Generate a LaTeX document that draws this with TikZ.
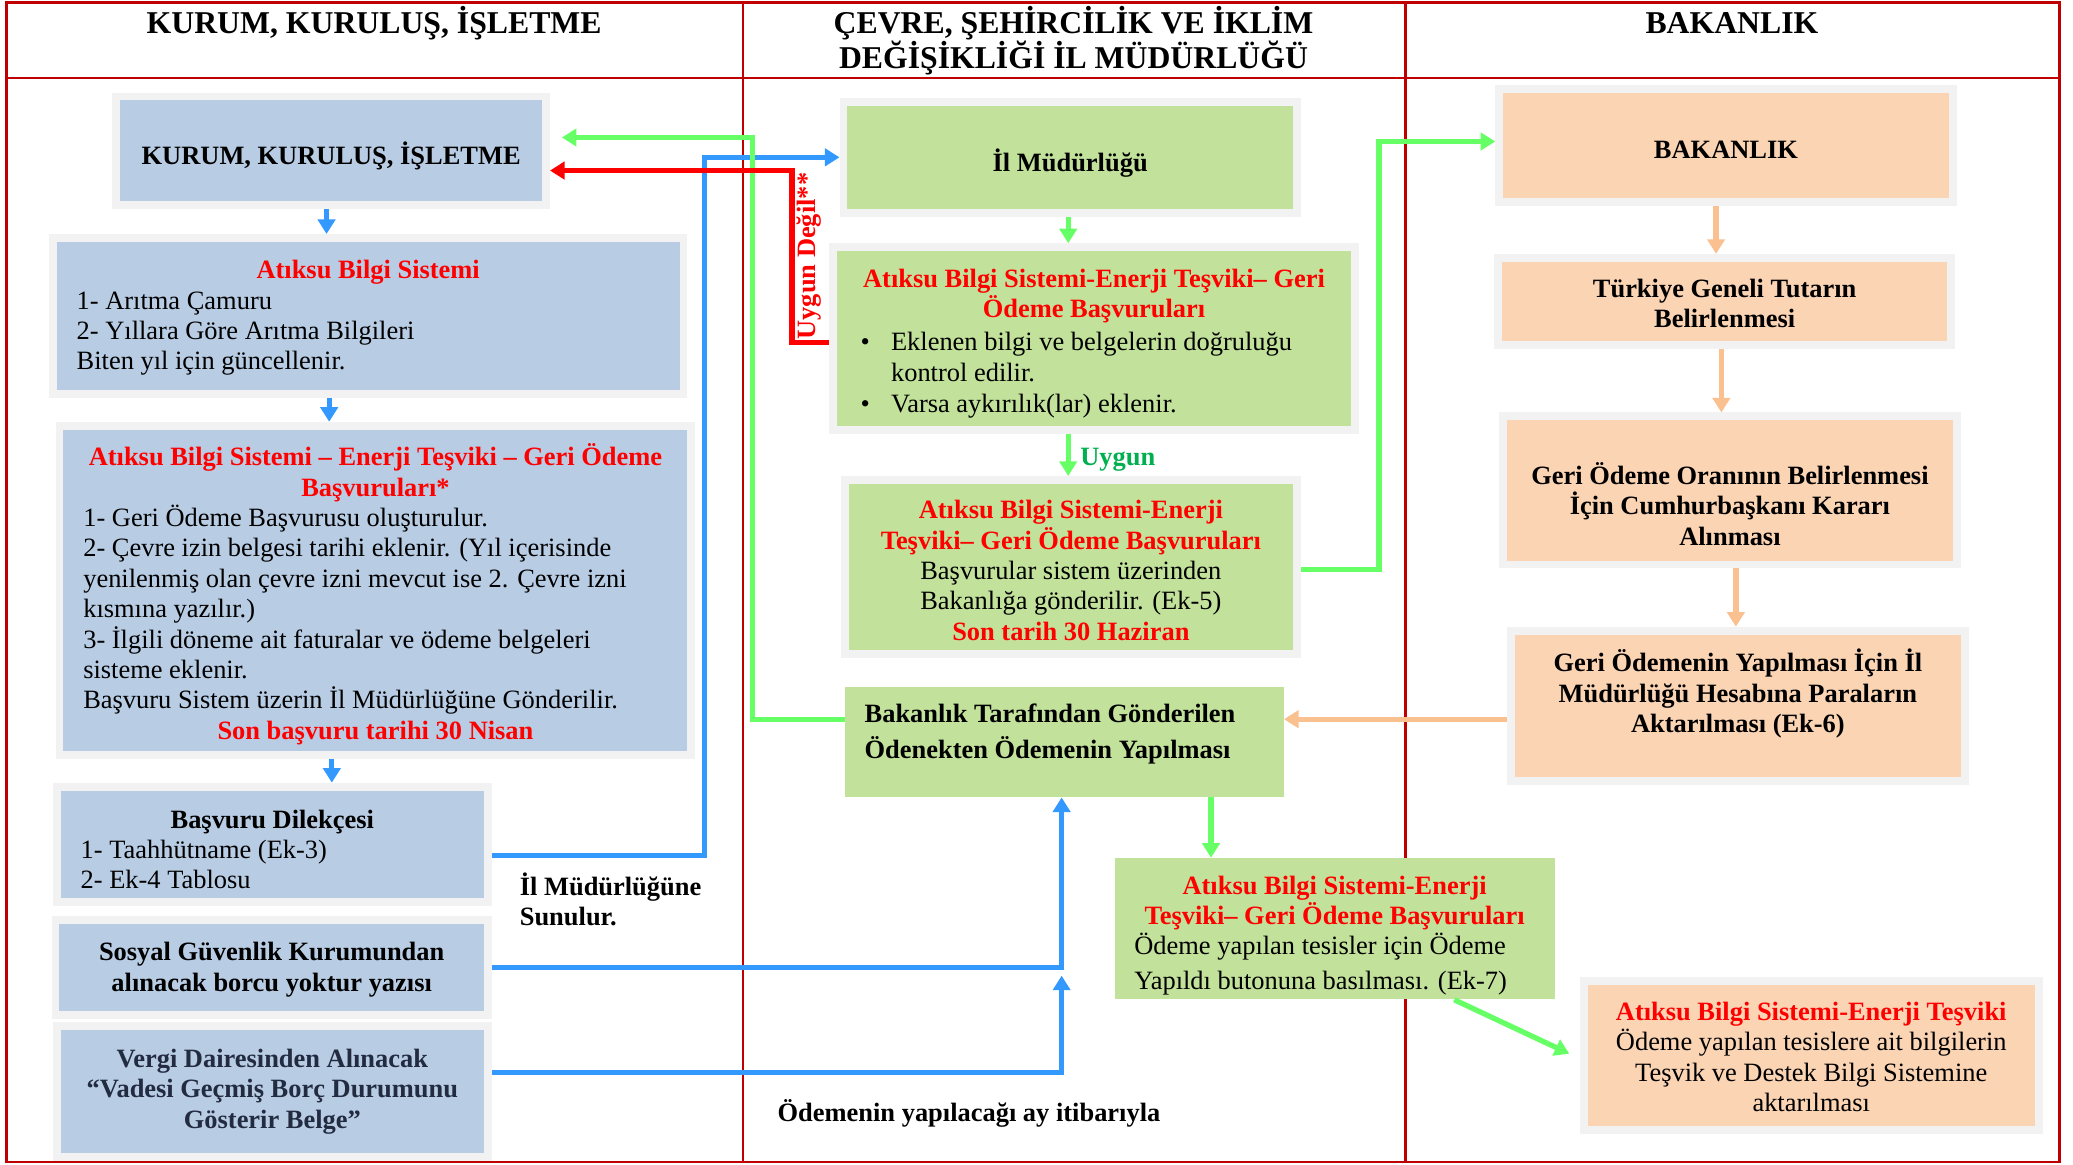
\documentclass[tikz,border=0pt]{standalone}
\usepackage{fontspec}
\setmainfont{Liberation Serif}
\usetikzlibrary{arrows.meta}
\definecolor{framered}{HTML}{C00000}
\definecolor{bluefill}{HTML}{B8CCE4}
\definecolor{greenfill}{HTML}{C2E19A}
\definecolor{peachfill}{HTML}{FBD4B4}
\definecolor{shadowgray}{HTML}{F2F2F2}
\definecolor{barr}{HTML}{3399FF}
\definecolor{garr}{HTML}{66FF66}
\definecolor{parr}{HTML}{FAC08F}
\definecolor{rarr}{HTML}{FF0000}
\definecolor{okgreen}{HTML}{00B050}
\definecolor{navytext}{HTML}{222B40}
\newcommand\fsz{\fontsize{20}{23}\selectfont\lineskiplimit=-100pt\relax}
\newcommand\fsh{\fontsize{24}{27}\selectfont}
\newcommand\clin[1]{\hbox to\hsize{\hss#1\hss}}
\newcommand\llin[1]{\hbox to\hsize{#1\hss}}
\newcommand\tbx[3][0]{\vbox{\hsize=#2pt\relax\kern#1pt\relax#3}}
\newcommand\redb{\color{red}\bfseries}
\tikzset{
  boxn/.style={draw=shadowgray, line width=6pt, inner sep=0pt, font=\fsz},
  flatn/.style={inner sep=0pt, font=\fsz},
  txtn/.style={inner sep=0pt, font=\fsz\bfseries, anchor=base west},
  hdr/.style={inner sep=0pt, font=\fsh\bfseries, anchor=base},
  arr/.style={line width=4pt, -{Triangle[length=11pt,width=13pt]}},
  frameline/.style={draw=framered, line width=2pt}
}
\begin{document}
\begin{tikzpicture}[x=1pt,y=-1pt]
\fill[white] (0,0) rectangle (1568,881);
\useasboundingbox (0,0) rectangle (1568,881);
% frame
\draw[frameline] (5,2) rectangle (1558,879);
\draw[frameline] (5,59) -- (1558,59);
\draw[frameline] (562,2) -- (562,879);
\draw[frameline] (1063,2) -- (1063,879);
% headers
\node[hdr] (h1) at (283,25) {KURUM, KURULUŞ, İŞLETME};
\node[hdr] (h2a) at (812,25) {ÇEVRE, ŞEHİRCİLİK VE İKLİM};
\node[hdr] (h2b) at (812,52) {DEĞİŞİKLİĞİ İL MÜDÜRLÜĞÜ};
\node[hdr] (h3) at (1310,25) {BAKANLIK};
% left column
\node[boxn, fill=bluefill, minimum width=325pt, minimum height=82pt] (kurum) at (250.5,114) {\tbx[8]{300}{\clin{\bfseries KURUM, KURULUŞ, İŞLETME}}};
\node[boxn, fill=bluefill, minimum width=477pt, minimum height=118pt] (abs1) at (278.5,239) {\tbx[3]{441}{%
  \clin{\redb Atıksu Bilgi Sistemi}%
  \llin{1- Arıtma Çamuru}%
  \llin{2- Yıllara Göre Arıtma Bilgileri}%
  \llin{Biten yıl için güncellenir.}}};
\node[boxn, fill=bluefill, minimum width=478pt, minimum height=249pt] (basv) at (284,446.5) {\tbx[6]{442}{%
  \clin{\redb Atıksu Bilgi Sistemi – Enerji Teşviki – Geri Ödeme}%
  \clin{\redb Başvuruları*}%
  \llin{1- Geri Ödeme Başvurusu oluşturulur.}%
  \llin{2- Çevre izin belgesi tarihi eklenir. (Yıl içerisinde}%
  \llin{yenilenmiş olan çevre izni mevcut ise 2. Çevre izni}%
  \llin{kısmına yazılır.)}%
  \llin{3- İlgili döneme ait faturalar ve ödeme belgeleri}%
  \llin{sisteme eklenir.}%
  \llin{Başvuru Sistem üzerin İl Müdürlüğüne Gönderilir.}%
  \clin{\redb Son başvuru tarihi 30 Nisan}}};
\node[boxn, fill=bluefill, minimum width=326pt, minimum height=87pt] (dil) at (206,638.5) {\tbx[8]{290}{%
  \clin{\bfseries Başvuru Dilekçesi}%
  \llin{1- Taahhütname (Ek-3)}%
  \llin{2- Ek-4 Tablosu}}};
\node[boxn, fill=bluefill, minimum width=327pt, minimum height=72pt] (sgk) at (205.5,732) {\tbx[3]{300}{%
  \clin{\bfseries Sosyal Güvenlik Kurumundan}%
  \clin{\bfseries alınacak borcu yoktur yazısı}}};
\node[boxn, fill=bluefill, text=navytext, minimum width=326pt, minimum height=99pt] (verg) at (206,825.5) {\tbx{300}{%
  \clin{\bfseries Vergi Dairesinden Alınacak}%
  \clin{\bfseries “Vadesi Geçmiş Borç Durumunu}%
  \clin{\bfseries Gösterir Belge”}}};
% middle column
\node[boxn, fill=greenfill, minimum width=343pt, minimum height=84pt] (il1) at (809.5,119) {\tbx[8]{300}{\clin{\bfseries İl Müdürlüğü}}};
\node[boxn, fill=greenfill, minimum width=395pt, minimum height=138pt] (il2) at (827.5,256) {\tbx[8]{353}{%
  \clin{\redb Atıksu Bilgi Sistemi-Enerji Teşviki– Geri}%
  \clin{\redb Ödeme Başvuruları}\vskip2pt
  \llin{\makebox[23pt][l]{•}Eklenen bilgi ve belgelerin doğruluğu}%
  \llin{\hspace*{23pt}kontrol edilir.}\vskip1pt
  \llin{\makebox[23pt][l]{•}Varsa aykırılık(lar) eklenir.}}};
\node[boxn, fill=greenfill, minimum width=342pt, minimum height=132pt] (il3) at (810,429) {\tbx[5]{310}{%
  \clin{\redb Atıksu Bilgi Sistemi-Enerji}%
  \clin{\redb Teşviki– Geri Ödeme Başvuruları}%
  \clin{Başvurular sistem üzerinden}%
  \clin{Bakanlığa gönderilir. (Ek-5)}%
  \clin{\redb Son tarih 30 Haziran}}};
\node[flatn, fill=greenfill, minimum width=332pt, minimum height=83pt] (odenek) at (805,561.5) {\tbx[10]{302}{\baselineskip=27pt
  \llin{\bfseries Bakanlık Tarafından Gönderilen}%
  \llin{\bfseries Ödenekten Ödemenin Yapılması}%
  \llin{}}};
\node[flatn, fill=greenfill, minimum width=333pt, minimum height=107pt] (abs4) at (1009.5,702.5) {\tbx[10]{303}{%
  \clin{\redb Atıksu Bilgi Sistemi-Enerji}%
  \clin{\redb Teşviki– Geri Ödeme Başvuruları}%
  \llin{Ödeme yapılan tesisler için Ödeme}\vskip3pt
  \llin{Yapıldı butonuna basılması. (Ek-7)}}};
% right column
\node[boxn, fill=peachfill, minimum width=343pt, minimum height=86pt] (bak) at (1305.5,110) {\tbx[6]{300}{\clin{\bfseries BAKANLIK}}};
\node[boxn, fill=peachfill, minimum width=343pt, minimum height=66pt] (tur) at (1304.5,228) {\tbx[3]{320}{%
  \clin{\bfseries Türkiye Geneli Tutarın}%
  \clin{\bfseries Belirlenmesi}}};
\node[boxn, fill=peachfill, minimum width=343pt, minimum height=112pt] (oran) at (1308.5,371) {\tbx[14]{320}{%
  \clin{}%
  \clin{\bfseries Geri Ödeme Oranının Belirlenmesi}%
  \clin{\bfseries İçin Cumhurbaşkanı Kararı}%
  \clin{\bfseries Alınması}}};
\node[boxn, fill=peachfill, minimum width=343pt, minimum height=114pt] (aktar) at (1314.5,534) {\tbx{320}{%
  \clin{\bfseries Geri Ödemenin Yapılması İçin İl}%
  \clin{\bfseries Müdürlüğü Hesabına Paraların}%
  \clin{\bfseries Aktarılması (Ek-6)}%
  \clin{}}};
\node[boxn, fill=peachfill, minimum width=344pt, minimum height=113pt] (tds) at (1370,798.5) {\tbx[2]{320}{%
  \clin{\redb Atıksu Bilgi Sistemi-Enerji Teşviki}%
  \clin{Ödeme yapılan tesislere ait bilgilerin}%
  \clin{Teşvik ve Destek Bilgi Sistemine}%
  \clin{aktarılması}}};
% free labels
\node[txtn] (sun1) at (393,677) {İl Müdürlüğüne};
\node[txtn] (sun2) at (393,700) {Sunulur.};
\node[txtn, text=okgreen] (uyg) at (817,352) {Uygun};
\node[txtn] (odlbl) at (588,848) {Ödemenin yapılacağı ay itibarıyla};
\node[txtn, text=red, rotate=90] (uygd) at (617,257) {Uygun Değil**};
% free ends
\coordinate (jn) at (803,738);
\coordinate (ktip) at (425,104);
\coordinate (ttip) at (1187,797);
% blue connectors
\draw[arr, draw=barr] (kurum.south -| 247,0) -- (abs1.north -| 247,0);
\draw[arr, draw=barr] (abs1.south -| 249,0) -- (basv.north -| 249,0);
\draw[arr, draw=barr] (basv.south -| 251,0) -- (dil.north -| 251,0);
\draw[arr, draw=barr] (dil.east |- 0,647) -| (533,119) -- (il1.west |- 0,119);
\draw[arr, draw=barr] (sgk.east |- 0,732) -| (odenek.south -| 803,0);
\draw[arr, draw=barr] (verg.east |- 0,811) -| (jn);
% green connectors
\draw[arr, draw=garr] (il1.south -| 808,0) -- (il2.north -| 808,0);
\draw[arr, draw=garr] (il2.south -| 808,0) -- (il3.north -| 808,0);
\draw[arr, draw=garr] (il3.east |- 0,431) -| (1043,107) -- (bak.west |- 0,107);
\draw[arr, draw=garr] (odenek.west |- 0,544) -| (569,104) -- (ktip);
\draw[arr, draw=garr] (odenek.south -| 916,0) -- (abs4.north -| 916,0);
\draw[arr, draw=garr] (abs4.south -| 1100,0) -- (ttip);
% red connector
\draw[arr, draw=rarr] (il2.west |- 0,259) -| (599,129) -- (kurum.east |- 0,129);
% peach connectors
\draw[arr, draw=parr] (bak.south -| 1298,0) -- (tur.north -| 1298,0);
\draw[arr, draw=parr] (tur.south -| 1302,0) -- (oran.north -| 1302,0);
\draw[arr, draw=parr] (oran.south -| 1313,0) -- (aktar.north -| 1313,0);
\draw[arr, draw=parr] (aktar.west |- 0,544) -- (odenek.east |- 0,544);
\end{tikzpicture}
\end{document}
